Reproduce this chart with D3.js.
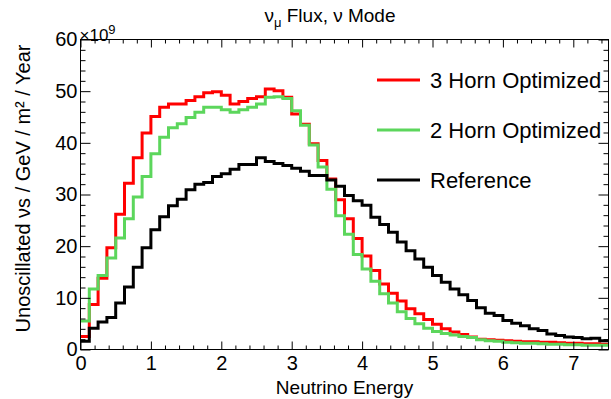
<!DOCTYPE html>
<html>
<head>
<meta charset="utf-8">
<script src="https://cdnjs.cloudflare.com/ajax/libs/d3/7.8.5/d3.min.js"></script>
<style>
body { margin: 0; background: #fff; }
svg text { font-family: "Liberation Sans", Arial, sans-serif; fill: #000; }
</style>
</head>
<body>
<div id="chart"></div>
<script>

// bins of 0.125 GeV from 0 to 7.5, values in units of 1e9
var binWidth = 0.125;

var threeHorn = [2.5, 8.7, 13.8, 19.7, 26.2, 32.2, 37.1, 41.9, 45.1, 46.9,
  47.5, 47.5, 48.2, 48.9, 49.7, 49.9, 49.2, 47.5, 48.0, 48.6,
  48.9, 50.4, 50.1, 48.8, 45.6, 43.6, 39.8, 36.6, 33.0, 29.0,
  25.3, 21.5, 18.1, 15.3, 12.7, 10.9, 9.4, 7.9, 6.9, 5.8,
  4.9, 4.0, 3.4, 2.9, 2.4, 2.0, 1.9, 1.8, 1.7, 1.6,
  1.5, 1.5, 1.4, 1.4, 1.3, 1.2, 1.2, 1.1, 1.1, 1.0];

var twoHorn = [5.5, 11.7, 14.3, 17.7, 21.6, 25.3, 29.5, 33.5, 37.9, 41.1,
  42.9, 43.7, 44.9, 45.9, 46.9, 46.9, 46.4, 45.9, 46.4, 46.9,
  47.5, 48.8, 48.9, 48.6, 46.2, 43.4, 39.6, 35.3, 31.0, 25.9,
  22.3, 18.4, 15.6, 13.2, 10.8, 9.0, 7.3, 6.0, 5.0, 4.1,
  3.5, 3.1, 2.8, 2.5, 2.3, 1.9, 1.7, 1.6, 1.4, 1.3,
  1.2, 1.2, 1.1, 1.0, 1.0, 0.9, 0.9, 0.8, 0.8, 0.8];

var reference = [1.6, 4.1, 5.3, 6.2, 9.0, 12.1, 15.9, 19.7, 23.2, 25.7,
  27.8, 29.1, 30.9, 32.0, 32.3, 33.5, 34.0, 34.9, 35.8, 35.8,
  37.1, 36.4, 36.0, 35.6, 35.1, 34.5, 33.7, 33.7, 32.8, 31.6,
  29.8, 28.8, 27.9, 25.6, 24.2, 22.7, 20.8, 19.1, 17.5, 15.9,
  14.3, 13.0, 11.7, 10.6, 9.5, 8.1, 7.0, 6.6, 5.6, 5.1,
  4.6, 4.0, 3.7, 3.0, 2.7, 2.4, 2.3, 2.1, 2.2, 1.7];

var seriesNames = ["3 Horn Optimized", "2 Horn Optimized", "Reference"];
var seriesColors = ["#ff0000", "#5cd65c", "#000000"];
var xTicks = [0, 1, 2, 3, 4, 5, 6, 7];
var yTicks = [0, 10, 20, 30, 40, 50, 60];

var W = 611, H = 399;
var fr = {left: 80.5, right: 608.5, top: 39.5, bottom: 349.5};

var svg = d3.select("#chart").append("svg")
  .attr("width", W)
  .attr("height", H);

var x = d3.scaleLinear().domain([0, 7.5]).range([fr.left, fr.right]);
var y = d3.scaleLinear().domain([0, 60]).range([fr.bottom, fr.top]);

var xMinor = d3.range(0, 7.5001, 0.2).filter(v => Math.abs(v - Math.round(v)) > 1e-6);
var yMinor = d3.range(0, 60.001, 2).filter(v => v % 10 != 0);

svg.append("clipPath").attr("id", "frame")
  .append("rect")
    .attr("x", fr.left).attr("y", fr.top)
    .attr("width", fr.right - fr.left).attr("height", fr.bottom - fr.top);

// histograms as steps
function stepPath(vals) {
  var p = d3.path();
  vals.forEach(function(v, i) {
    var x0 = x(i * binWidth), x1 = x((i + 1) * binWidth);
    if (i == 0) p.moveTo(x0, y(v)); else p.lineTo(x0, y(v));
    p.lineTo(x1, y(v));
  });
  return p.toString();
}

var hists = [threeHorn, twoHorn, reference];
svg.append("g").attr("clip-path", "url(#frame)")
  .selectAll("path")
  .data(hists)
  .enter()
  .append("path")
    .attr("d", d => stepPath(d))
    .attr("fill", "none")
    .attr("stroke", (d, i) => seriesColors[i])
    .attr("stroke-width", 3)
    .attr("stroke-linejoin", "miter");

// axes, ticks pointing inward like ROOT
function styleAxis(g) {
  g.select(".domain").remove();
  g.selectAll("line").attr("stroke", "#000");
  g.selectAll("text").style("font-size", "20px");
}

svg.append("g")
  .attr("transform", "translate(0," + fr.bottom + ")")
  .call(d3.axisBottom(x).tickValues(xTicks).tickSize(-8).tickPadding(6).tickFormat(d3.format("d")))
  .call(styleAxis);
svg.append("g")
  .attr("transform", "translate(0," + fr.bottom + ")")
  .call(d3.axisBottom(x).tickValues(xMinor).tickSize(-4).tickFormat(""))
  .call(styleAxis);

svg.append("g")
  .attr("transform", "translate(0," + fr.top + ")")
  .call(d3.axisTop(x).tickValues(xTicks).tickSize(-8).tickFormat(""))
  .call(styleAxis);
svg.append("g")
  .attr("transform", "translate(0," + fr.top + ")")
  .call(d3.axisTop(x).tickValues(xMinor).tickSize(-4).tickFormat(""))
  .call(styleAxis);

svg.append("g")
  .attr("transform", "translate(" + fr.left + ",0)")
  .call(d3.axisLeft(y).tickValues(yTicks).tickSize(-10).tickPadding(3).tickFormat(d3.format("d")))
  .call(styleAxis);
svg.append("g")
  .attr("transform", "translate(" + fr.left + ",0)")
  .call(d3.axisLeft(y).tickValues(yMinor).tickSize(-5).tickFormat(""))
  .call(styleAxis);

svg.append("g")
  .attr("transform", "translate(" + fr.right + ",0)")
  .call(d3.axisRight(y).tickValues(yTicks).tickSize(-10).tickFormat(""))
  .call(styleAxis);
svg.append("g")
  .attr("transform", "translate(" + fr.right + ",0)")
  .call(d3.axisRight(y).tickValues(yMinor).tickSize(-5).tickFormat(""))
  .call(styleAxis);

svg.append("rect")
  .attr("x", fr.left).attr("y", fr.top)
  .attr("width", fr.right - fr.left).attr("height", fr.bottom - fr.top)
  .attr("fill", "none")
  .attr("stroke", "#000")
  .attr("stroke-width", 1);

// exponent
var ex = svg.append("text")
  .attr("x", fr.left - 1).attr("y", fr.top + 1)
  .style("font-size", "17px");
ex.append("tspan").text("\u00d710");
ex.append("tspan").attr("dy", -7).style("font-size", "13px").text("9");

// title
var title = svg.append("text")
  .attr("x", 330).attr("y", 22)
  .attr("text-anchor", "middle")
  .style("font-size", "19px");
title.append("tspan").text("\u03bd");
title.append("tspan").attr("dy", 5).style("font-size", "13px").text("\u03bc");
title.append("tspan").attr("dy", -5).text(" Flux, \u03bd Mode");

// axis titles
svg.append("text")
  .attr("x", (fr.left + fr.right) / 2).attr("y", 394)
  .attr("text-anchor", "middle")
  .style("font-size", "19px")
  .text("Neutrino Energy");

svg.append("text")
  .attr("transform", "translate(30," + (fr.top + 5) + ") rotate(-90)")
  .attr("text-anchor", "end")
  .style("font-size", "20px")
  .text("Unoscillated \u03bds /  GeV / m\u00b2 / Year");

// legend
var legend = svg.append("g");
seriesNames.forEach(function(name, i) {
  var ly = 80 + i * 50;
  legend.append("line")
    .attr("x1", 377).attr("x2", 420)
    .attr("y1", ly).attr("y2", ly)
    .attr("stroke", seriesColors[i])
    .attr("stroke-width", 3);
  legend.append("text")
    .attr("x", 430).attr("y", ly)
    .attr("dy", "0.36em")
    .style("font-size", "22px")
    .text(name);
});

</script>
</body>
</html>
